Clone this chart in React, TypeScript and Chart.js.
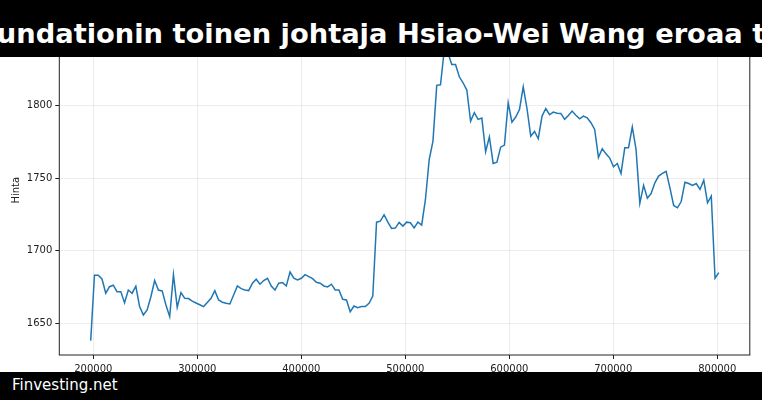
import { useEffect, useRef } from "react"
import { Chart, registerables } from "chart.js"

Chart.register(...registerables)

const TITLE = "Ethereum Foundationin toinen johtaja Hsiao-Wei Wang eroaa tehtävästään"
const SOURCE = "Finvesting.net"
const Y_LABEL = "Hinta"

// first / last x value of the series, points are evenly spaced between them
const X_FIRST = 197500
const X_LAST = 801500
const X_TICKS = [200000, 300000, 400000, 500000, 600000, 700000, 800000]
const Y_TICKS = [1650, 1700, 1750, 1800]

const PRICES = [
  1638.2, 1683.2, 1683.2, 1680.6, 1670.8, 1675.3, 1676.3, 1671.9, 1671.9, 1664.3,
  1673.0, 1670.8, 1675.6, 1661.6, 1655.8, 1659.3, 1668.4, 1679.5, 1673.0, 1672.4,
  1662.7, 1654.7, 1683.6, 1661.1, 1671.2, 1667.3, 1667.1, 1665.3, 1664.1, 1662.9,
  1661.6, 1664.5, 1667.3, 1672.6, 1666.2, 1664.6, 1663.9, 1663.4, 1669.6, 1675.8,
  1674.0, 1673.0, 1672.6, 1677.7, 1680.4, 1677.0, 1679.5, 1681.1, 1675.8, 1673.0,
  1677.7, 1678.1, 1675.8, 1685.4, 1681.1, 1679.9, 1681.1, 1683.6, 1682.2, 1680.8,
  1678.3, 1677.7, 1675.8, 1675.1, 1677.0, 1673.0, 1673.0, 1666.6, 1666.2, 1658.1,
  1662.0, 1660.9, 1661.6, 1661.6, 1663.9, 1668.9, 1719.7, 1720.4, 1724.8, 1719.7,
  1715.4, 1715.6, 1719.5, 1717.0, 1719.7, 1719.3, 1715.8, 1719.7, 1717.7, 1735.3,
  1762.8, 1775.5, 1813.8, 1814.2, 1838.0, 1836.0, 1828.2, 1828.2, 1819.7, 1815.6,
  1810.6, 1789.2, 1795.0, 1790.4, 1791.3, 1768.1, 1778.4, 1760.1, 1761.0, 1771.3,
  1772.7, 1801.8, 1788.5, 1792.0, 1797.2, 1812.8, 1797.9, 1778.9, 1782.1, 1777.1,
  1792.7, 1797.9, 1793.6, 1795.4, 1794.7, 1794.5, 1790.4, 1793.1, 1796.1, 1793.3,
  1790.8, 1792.7, 1791.5, 1788.1, 1783.5, 1764.2, 1770.2, 1766.7, 1763.8, 1757.8,
  1760.1, 1753.2, 1770.9, 1770.9, 1785.3, 1769.7, 1732.6, 1745.0, 1736.2, 1739.4,
  1746.8, 1751.4, 1753.2, 1754.6, 1743.3, 1731.2, 1729.6, 1733.9, 1747.2, 1746.3,
  1745.0, 1746.3, 1742.2, 1748.6, 1733.0, 1737.6, 1681.1, 1685.0,
]

const FONT = "'DejaVu Sans', sans-serif"

// matplotlib-like box around the plot area
const framePlugin = {
  id: "frame",
  afterDraw(chart: any) {
    const { ctx, chartArea: a } = chart
    ctx.save()
    ctx.strokeStyle = "#222"
    ctx.lineWidth = 1
    ctx.strokeRect(a.left, a.top, a.right - a.left, a.bottom - a.top)
    ctx.restore()
  },
}

export default function App() {
  const canvasRef = useRef<HTMLCanvasElement>(null)

  useEffect(() => {
    if (!canvasRef.current) return
    const step = (X_LAST - X_FIRST) / (PRICES.length - 1)
    const points = PRICES.map((y, i) => ({ x: X_FIRST + i * step, y }))

    const chart = new Chart(canvasRef.current, {
      type: "line",
      data: {
        datasets: [
          {
            data: points,
            borderColor: "#1f77b4",
            borderWidth: 1.5,
            pointRadius: 0,
            tension: 0,
          },
        ],
      },
      options: {
        responsive: false,
        animation: false,
        layout: { padding: { top: 25.5, right: 12.2, left: 0, bottom: 0 } },
        plugins: { legend: { display: false }, tooltip: { enabled: false } },
        scales: {
          x: {
            type: "linear",
            min: 167300,
            max: 831300,
            afterBuildTicks: (scale: any) => {
              scale.ticks = X_TICKS.map((value) => ({ value }))
            },
            afterFit: (scale: any) => {
              scale.height = 45
            },
            border: { display: false },
            grid: { color: "rgba(0,0,0,0.09)", lineWidth: 0.8, tickLength: 4, tickColor: "#222", tickWidth: 1 },
            ticks: {
              autoSkip: false,
              maxRotation: 0,
              padding: 4.5,
              color: "#222",
              font: { family: FONT, size: 10 },
              callback: (v: any) => String(v),
            },
          },
          y: {
            type: "linear",
            min: 1628.3,
            max: 1855,
            afterBuildTicks: (scale: any) => {
              scale.ticks = Y_TICKS.map((value) => ({ value }))
            },
            afterFit: (scale: any) => {
              scale.width = 59.3
            },
            border: { display: false },
            grid: { color: "rgba(0,0,0,0.09)", lineWidth: 0.8, tickLength: 4, tickColor: "#222", tickWidth: 1 },
            ticks: {
              padding: 3,
              color: "#222",
              font: { family: FONT, size: 10 },
              callback: (v: any) => String(v),
            },
            title: {
              display: true,
              text: Y_LABEL,
              color: "#222",
              font: { family: FONT, size: 10 },
              padding: { top: 10, bottom: 0 },
            },
          },
        },
      },
      plugins: [framePlugin],
    })

    return () => chart.destroy()
  }, [])

  return (
    <div
      style={{
        position: "absolute",
        left: 0,
        top: 0,
        width: 762,
        height: 400,
        background: "#fff",
        overflow: "hidden",
      }}
    >
      <canvas ref={canvasRef} width={762} height={400} style={{ position: "absolute", left: 0, top: 0 }} />
      <div
        style={{
          position: "absolute",
          left: 0,
          top: 0,
          width: 762,
          height: 57,
          background: "#000",
          overflow: "hidden",
        }}
      >
        <div
          style={{
            position: "absolute",
            left: -2,
            right: 2,
            top: 20,
            display: "flex",
            justifyContent: "center",
          }}
        >
          <span
            style={{
              flexShrink: 0,
              whiteSpace: "nowrap",
              color: "#fff",
              fontFamily: FONT,
              fontWeight: "bold",
              fontSize: 27.3,
              lineHeight: "27px",
            }}
          >
            {TITLE}
          </span>
        </div>
      </div>
      <div
        style={{
          position: "absolute",
          left: 0,
          top: 372,
          width: 762,
          height: 28,
          background: "#000",
        }}
      >
        <span
          style={{
            position: "absolute",
            left: 12,
            top: 6,
            color: "#fff",
            fontFamily: FONT,
            fontSize: 15,
            lineHeight: "15px",
            whiteSpace: "nowrap",
          }}
        >
          {SOURCE}
        </span>
      </div>
    </div>
  )
}
